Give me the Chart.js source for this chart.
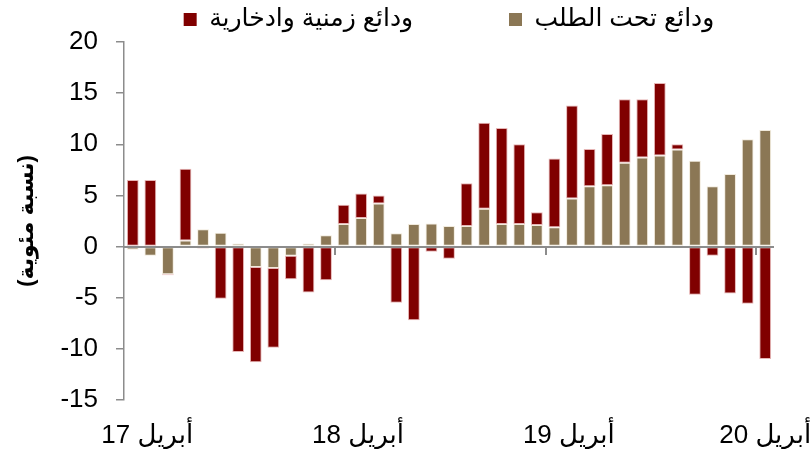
<!DOCTYPE html>
<html lang="ar">
<head>
<meta charset="utf-8">
<title>ودائع</title>
<script src="https://cdn.jsdelivr.net/npm/chart.js@4.4.1/dist/chart.umd.min.js"></script>
<style>
  html, body { margin: 0; padding: 0; background: #fff; }
  #wrap { width: 810px; height: 450px; position: relative; }
</style>
</head>
<body>
<div id="wrap"><canvas id="chart"></canvas></div>
<script>
// ── Data ───────────────────────────────────────────────────
const months = [
  'أبريل 17', 'مايو 17', 'يونيو 17', 'يوليو 17', 'أغسطس 17', 'سبتمبر 17',
  'أكتوبر 17', 'نوفمبر 17', 'ديسمبر 17', 'يناير 18', 'فبراير 18', 'مارس 18',
  'أبريل 18', 'مايو 18', 'يونيو 18', 'يوليو 18', 'أغسطس 18', 'سبتمبر 18',
  'أكتوبر 18', 'نوفمبر 18', 'ديسمبر 18', 'يناير 19', 'فبراير 19', 'مارس 19',
  'أبريل 19', 'مايو 19', 'يونيو 19', 'يوليو 19', 'أغسطس 19', 'سبتمبر 19',
  'أكتوبر 19', 'نوفمبر 19', 'ديسمبر 19', 'يناير 20', 'فبراير 20', 'مارس 20',
  'أبريل 20'
];

const demandDeposits = [
  -0.3, -0.9, -2.7, 0.6, 1.7, 1.35, 0.3, -2.0, -2.1, -0.9, 0.3, 1.1,
  2.2, 2.8, 4.2, 1.3, 2.2, 2.25, 2.0, 2.0, 3.7, 2.2, 2.2, 2.1,
  1.9, 4.7, 5.9, 6.0, 8.2, 8.7, 8.9, 9.5, 8.4, 5.9, 7.1, 10.5,
  11.4
];

const timeSavingsDeposits = [
  6.5, 6.5, -0.1, 7.0, -0.2, -5.1, -10.3, -9.3, -7.8, -2.3, -4.5, -3.3,
  1.9, 2.4, 0.8, -5.5, -7.2, -0.5, -1.2, 4.2, 8.4, 9.4, 7.8, 1.25,
  6.7, 9.1, 3.65, 5.0, 6.2, 5.7, 7.1, 0.5, -4.7, -0.9, -4.6, -5.6,
  -11.0
];

const seriesNames = ['ودائع تحت الطلب', 'ودائع زمنية وادخارية'];
const yTitle = '(نسبة مئوية)';

// ── Styling ────────────────────────────────────────────────
const FONT = 'Arial, "Liberation Sans", "DejaVu Sans", sans-serif';
const AXIS_GREY = '#8c8c8c';

// zero line + small tick marks at each April, drawn over the bars
const zeroAxis = {
  id: 'zeroAxis',
  afterDatasetsDraw(chart) {
    const { ctx, chartArea, scales: { x, y } } = chart;
    const y0 = Math.round(y.getPixelForValue(0));
    ctx.save();
    ctx.strokeStyle = AXIS_GREY;
    ctx.lineWidth = 2;
    ctx.beginPath();
    ctx.moveTo(chartArea.left, y0);
    ctx.lineTo(chartArea.right, y0);
    ctx.stroke();
    for (let i = 12; i < months.length; i += 12) {
      const px = Math.round((x.getPixelForValue(i - 1) + x.getPixelForValue(i)) / 2);
      ctx.beginPath();
      ctx.moveTo(px, y0);
      ctx.lineTo(px, y0 + 8);
      ctx.stroke();
    }
    ctx.restore();
  }
};

// April labels only; RTL embedding so the year sits on the left,
// leading spaces nudge all but the last label a bit to the right
function aprilLabel(v, i) {
  if (i % 12 !== 0) return '';
  const pad = i < months.length - 1 ? '    ' : '';
  return pad + '\u202B' + months[i] + '\u202C';
}

new Chart(document.getElementById('chart'), {
  type: 'bar',
  data: {
    labels: months,
    datasets: [
      {
        label: seriesNames[0],
        data: demandDeposits,
        backgroundColor: '#8b7755',
        borderColor: 'rgba(235,225,205,0.7)',
        borderWidth: 1,
        borderSkipped: false,
      },
      {
        label: seriesNames[1],
        data: timeSavingsDeposits,
        backgroundColor: '#800000',
        borderColor: 'rgba(220,150,150,0.7)',
        borderWidth: 1,
        borderSkipped: false,
      },
    ]
  },
  options: {
    responsive: true,
    maintainAspectRatio: false,
    animation: false,
    barPercentage: 0.67,
    categoryPercentage: 1,
    layout: { padding: { left: 0, right: 36, top: 0, bottom: 1 } },
    plugins: {
      tooltip: { enabled: false },
      legend: {
        position: 'top',
        fullSize: false,
        reverse: true,
        labels: {
          color: '#000',
          font: { family: FONT, size: 25 },
          boxWidth: 13,
          boxHeight: 13,
          padding: 7,
          generateLabels(chart) {
            const items = Chart.defaults.plugins.legend.labels.generateLabels(chart);
            items.forEach(it => {
              it.lineWidth = 0;
              if (it.datasetIndex === 1) it.text = it.text + '\u2003\u2003\u2003  ';
            });
            return items;
          }
        }
      }
    },
    scales: {
      x: {
        stacked: true,
        grid: { display: false, drawTicks: false, tickLength: 0 },
        border: { display: false },
        afterFit(scale) {
          scale.paddingRight = 0;
          scale.height = 49;
        },
        ticks: {
          color: '#000',
          font: { family: FONT, size: 26 },
          padding: 20,
          maxRotation: 0,
          autoSkip: false,
          callback: aprilLabel
        }
      },
      y: {
        stacked: true,
        min: -15,
        max: 20,
        border: { display: true, color: AXIS_GREY, width: 1.5 },
        afterFit(scale) { scale.width = 124; },
        grid: {
          drawOnChartArea: false,
          drawTicks: true,
          tickLength: 8,
          tickColor: AXIS_GREY,
          color: AXIS_GREY,
          lineWidth: 1.5,
        },
        ticks: {
          stepSize: 5,
          color: '#000',
          font: { family: FONT, size: 26 },
          padding: 18,
        },
        title: {
          display: true,
          text: yTitle,
          color: '#000',
          font: { family: FONT, size: 22, weight: 'bold' },
          padding: { top: 14, bottom: 10 }
        }
      }
    }
  },
  plugins: [zeroAxis]
});
</script>
</body>
</html>
